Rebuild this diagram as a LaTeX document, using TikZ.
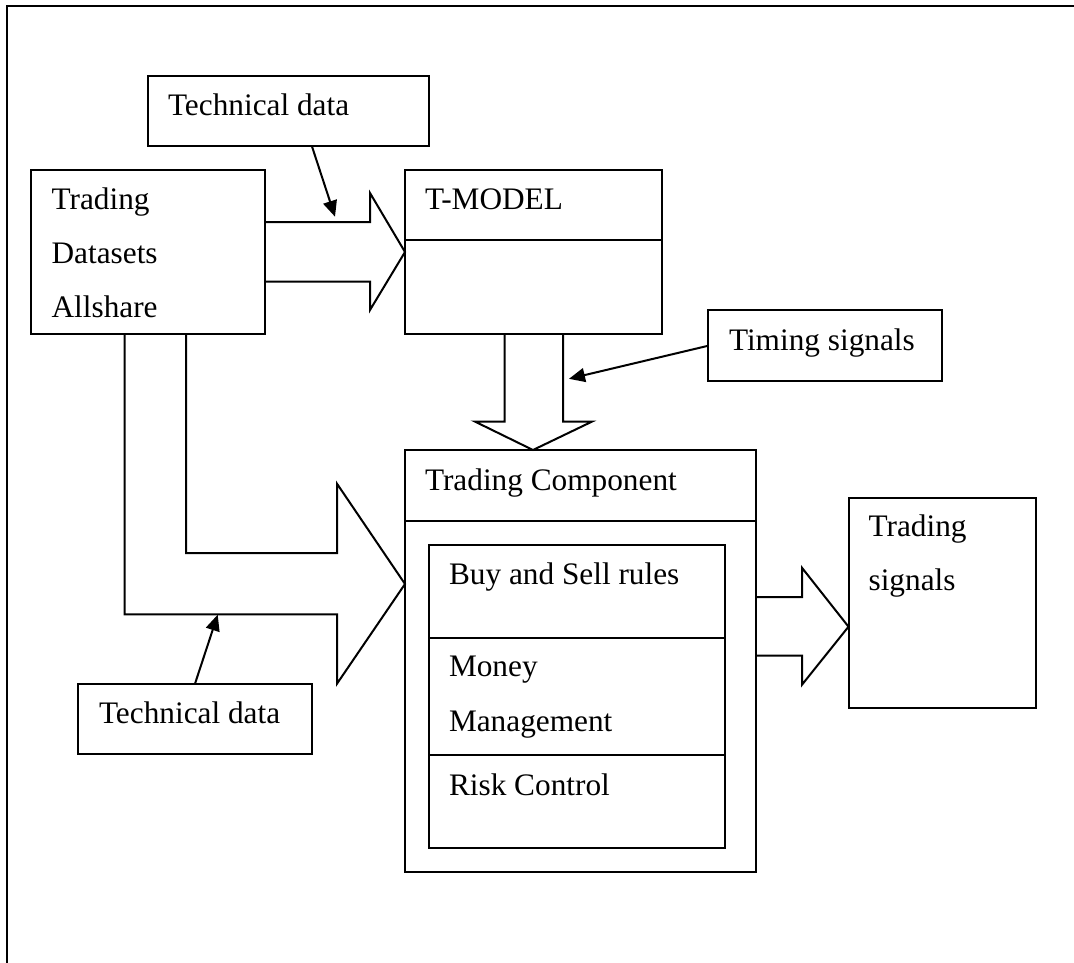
\documentclass[tikz,border=0pt]{standalone}
\usepackage{fontspec}
\setmainfont{Liberation Serif}
\usetikzlibrary{arrows.meta}
\tikzset{
  x=1pt,y=-1pt,
  ln/.style={line width=2pt,line join=miter,miter limit=10},
  bx/.style={draw,ln,rectangle,inner sep=0pt,outer sep=0pt,anchor=north west},
  lbl/.style={anchor=base west,inner sep=0pt,outer sep=0pt,font=\fontsize{31.3}{37}\selectfont},
  thin arrow/.style={ln,-{Triangle[length=16pt,width=14pt]}}
}
\begin{document}
\begin{tikzpicture}
\useasboundingbox (0,0) rectangle (1074,963);
% page frame: only top and left rules are visible
\coordinate (fb) at (7,963);
\coordinate (fc) at (7,6);
\coordinate (fr) at (1074,6);
\draw[ln,line width=2.2pt] (fb) -- (fc) -- (fr);
% boxes
\node[bx,minimum width=281pt,minimum height=70pt] (tech1) at (148,76.5) {};
\node[bx,minimum width=234pt,minimum height=163.5pt] (data) at (31,170) {};
\node[bx,minimum width=257pt,minimum height=163.5pt] (tmodel) at (405,170) {};
\node[bx,minimum width=234pt,minimum height=70.5pt] (timing) at (708,310) {};
\node[bx,minimum width=350.5pt,minimum height=422pt] (comp) at (405,450) {};
\node[bx,minimum width=296.5pt,minimum height=303.5pt] (inner) at (428.5,544.5) {};
\node[bx,minimum width=187pt,minimum height=210.5pt] (signals) at (848.5,497.5) {};
\node[bx,minimum width=233.7pt,minimum height=70.3pt] (tech2) at (78,683.7) {};
% dividers
\draw[ln] (tmodel.west |- 0,240) -- (tmodel.east |- 0,240);
\draw[ln] (comp.west |- 0,521) -- (comp.east |- 0,521);
\draw[ln] (inner.west |- 0,637.7) -- (inner.east |- 0,637.7);
\draw[ln] (inner.west |- 0,754.7) -- (inner.east |- 0,754.7);
% block arrows
\draw[ln] (data.east |- 0,222) -- (370,222) -- (370,193) -- (tmodel.west |- 0,252) -- (370,310) -- (370,281.7) -- (data.east |- 0,281.7);
\draw[ln] (504.5,333.5) -- (504.5,421.6) -- (475,421.6) -- (533,450) -- (592,421.6) -- (563,421.6) -- (563,333.5);
\draw[ln] (186,333.5) -- (186,553) -- (337,553) -- (337,483.7) -- (comp.west |- 0,584) -- (337,683.7) -- (337,614.3) -- (124.7,614.3) -- (124.7,333.5);
\draw[ln] (comp.east |- 0,597) -- (802,597) -- (802,567.8) -- (signals.west |- 0,626.7) -- (802,684.7) -- (802,655.5) -- (comp.east |- 0,655.5);
% thin arrows
\coordinate (t1s) at (312,146.5);
\coordinate (t1e) at (335,216.7);
\coordinate (tis) at (708,345.8);
\coordinate (tie) at (569,378.8);
\coordinate (t2s) at (195,683.7);
\coordinate (t2e) at (217.7,614.7);
\draw[thin arrow] (t1s) -- (t1e);
\draw[thin arrow] (tis) -- (tie);
\draw[thin arrow] (t2s) -- (t2e);
% labels
\node[lbl] (ltech1) at (168,116) {Technical data};
\node[lbl] (l1) at (51.6,209) {Trading};
\node[lbl] (l2) at (51.6,263) {Datasets};
\node[lbl] (l3) at (51.6,317) {Allshare};
\node[lbl] (ltm) at (425,209) {T-MODEL};
\node[lbl] (lti) at (729,350) {Timing signals};
\node[lbl] (lco) at (425,490.7) {Trading Component};
\node[lbl] (lbuy) at (449,584.7) {Buy and Sell rules};
\node[lbl] (lmo) at (449,676) {Money};
\node[lbl] (lma) at (449,731) {Management};
\node[lbl] (lri) at (449,795) {Risk Control};
\node[lbl] (ls1) at (868.6,536.4) {Trading};
\node[lbl] (ls2) at (868.6,590.7) {signals};
\node[lbl] (ltech2) at (99,723) {Technical data};
\end{tikzpicture}
\end{document}
